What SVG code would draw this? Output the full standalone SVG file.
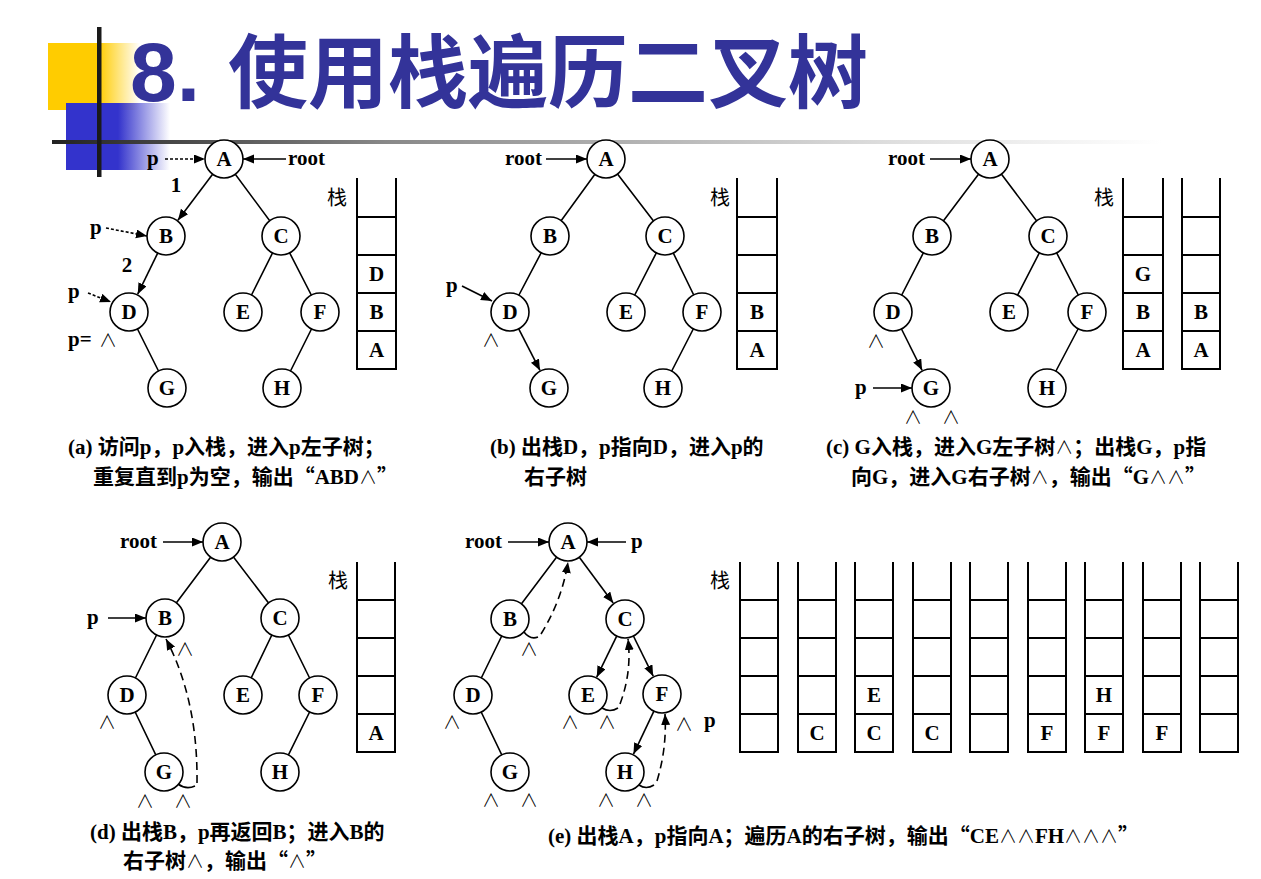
<svg xmlns="http://www.w3.org/2000/svg" width="1261" height="879" viewBox="0 0 1261 879">
<defs>
<linearGradient id="gy" x1="0" x2="1" y1="0" y2="0"><stop offset="0.55" stop-color="#FFCC00"/><stop offset="1" stop-color="#FFCC00" stop-opacity="0"/></linearGradient>
<linearGradient id="gb" x1="0" x2="1" y1="0" y2="0"><stop offset="0.5" stop-color="#3333CC"/><stop offset="1" stop-color="#3333CC" stop-opacity="0"/></linearGradient>
<linearGradient id="gl" x1="0" x2="1" y1="0" y2="0"><stop offset="0" stop-color="#222"/><stop offset="0.3" stop-color="#888"/><stop offset="0.75" stop-color="#ddd"/><stop offset="1" stop-color="#fff"/></linearGradient>
<marker id="ah" markerUnits="userSpaceOnUse" markerWidth="12" markerHeight="10" refX="11" refY="4.5" orient="auto" viewBox="0 0 12 10"><path d="M0,0 L11,4.5 L0,9 z" fill="#000"/></marker>
<style>
.n circle{fill:#fff;stroke:#000;stroke-width:1.6}
.n text,.sl{font-family:"Liberation Serif",serif;font-weight:bold;font-size:21px;text-anchor:middle}
.e{stroke:#000;stroke-width:1.6;fill:none}
.ar{marker-end:url(#ah)}
.dot{stroke-dasharray:3 2}
.dash{stroke-dasharray:8 5}
.lbl{font-family:"Liberation Serif",serif;font-weight:bold;font-size:21px}
.nil{font-family:"Noto Sans CJK SC",sans-serif;font-weight:300;font-size:18px;text-anchor:middle}
.zh{font-family:"Liberation Serif","Noto Sans CJK SC",serif;font-size:20px}
.stk path{stroke:#000;stroke-width:2;fill:none}
.cap{font-family:"Liberation Serif","Noto Sans CJK SC",serif;font-weight:bold;font-size:21px}
.cap .w{font-family:"Noto Sans CJK SC",sans-serif;font-weight:300;font-size:18px}
.cap .q{font-family:"Noto Sans CJK SC",sans-serif}
</style>
</defs>
<rect width="1261" height="879" fill="#fff"/>
<g id="header">
<rect x="48" y="43" width="92" height="67" fill="url(#gy)"/>
<rect x="66" y="103" width="104" height="67" fill="url(#gb)"/>
<rect x="52" y="140" width="1110" height="4" fill="url(#gl)"/>
<rect x="97" y="27" width="4.5" height="150" fill="#1a1a1a"/>
<text x="130" y="101" font-family="Liberation Sans,Arial,sans-serif" font-weight="bold" font-size="84" fill="#333399">8.<tspan x="228" font-family="Noto Sans CJK SC,sans-serif" font-size="80">使用栈遍历二叉树</tspan></text>
</g>
<g id="connectors">
<path class="e ar" d="M212.6,174.2L177.9,220.2"/>
<path class="e ar" d="M157.7,253.1L137.7,294.2"/>
<path class="e" d="M224,159L281,236M281,236L243,312M281,236L320,312M129,312L167,388M320,312L282,388"/>
<path class="e dot ar" d="M165,159H205"/>
<path class="e ar" d="M286,159H243"/>
<path class="e dot ar" d="M106,228L147,236"/>
<path class="e dot ar" d="M88,293L111,302"/>
<path class="e" d="M606,159L550,236M606,159L665,236M550,236L510,312M665,236L626,312M665,236L702,312M702,312L663,388"/>
<path class="e ar" d="M518.7,328.9L540,370.4"/>
<path class="e ar" d="M546,159H587"/>
<path class="e ar" d="M462,286L492,301"/>
<path class="e" d="M990,159L932,236M990,159L1048,236M932,236L893,312M1048,236L1009,312M1048,236L1087,312M1087,312L1047,388"/>
<path class="e ar" d="M901.5,329L922.1,370.3"/>
<path class="e ar" d="M930,159H971"/>
<path class="e ar" d="M873,388H912"/>
<path class="e" d="M222,542L165,618M222,542L280,618M165,618L127,695M127,695L164,772M280,618L243,695M280,618L318,695M318,695L280,772"/>
<path class="e ar" d="M163,542H203"/>
<path class="e ar" d="M108,618H146"/>
<path class="e" d="M178,784Q186,790 195,786"/>
<path class="e dash ar" d="M197,783Q198,700 166,639"/>
<path class="e" d="M568,542L510,619M510,619L473,695M473,695L510,772"/>
<path class="e ar" d="M579.3,557.3L613.2,603.1"/>
<path class="e ar" d="M616.7,636.1L596.7,677.2"/>
<path class="e ar" d="M633.4,636L653.2,676.2"/>
<path class="e ar" d="M653.9,711.2L633.5,754.1"/>
<path class="e ar" d="M508,542H549"/>
<path class="e ar" d="M626,542H587"/>
<path class="e" d="M524,632Q530,640 538,637"/>
<path class="e dash ar" d="M541,634Q562,600 568,562"/>
<path class="e" d="M602,708Q610,713 618,708"/>
<path class="e dash ar" d="M620,704Q632,672 628,639"/>
<path class="e" d="M639,785Q646,790 654,785"/>
<path class="e dash ar" d="M657,781Q667,748 665,714"/>
</g>
<g id="a-A" class="n"><circle cx="224" cy="159" r="19"/><text x="224" y="166">A</text></g>
<g id="a-B" class="n"><circle cx="166" cy="236" r="19"/><text x="166" y="243">B</text></g>
<g id="a-C" class="n"><circle cx="281" cy="236" r="19"/><text x="281" y="243">C</text></g>
<g id="a-D" class="n"><circle cx="129" cy="312" r="19"/><text x="129" y="319">D</text></g>
<g id="a-E" class="n"><circle cx="243" cy="312" r="19"/><text x="243" y="319">E</text></g>
<g id="a-F" class="n"><circle cx="320" cy="312" r="19"/><text x="320" y="319">F</text></g>
<g id="a-G" class="n"><circle cx="167" cy="388" r="19"/><text x="167" y="395">G</text></g>
<g id="a-H" class="n"><circle cx="282" cy="388" r="19"/><text x="282" y="395">H</text></g>
<g id="a-labels">
<text class="lbl" x="147" y="165">p</text>
<text class="lbl" x="288" y="165">root</text>
<text class="lbl" x="176" y="192" text-anchor="middle">1</text>
<text class="lbl" x="90" y="234">p</text>
<text class="lbl" x="127" y="272" text-anchor="middle">2</text>
<text class="lbl" x="68" y="298">p</text>
<text class="lbl" x="68" y="346">p=</text>
<text class="nil" x="108" y="347">∧</text>
<text class="zh" x="327" y="205">栈</text>
</g>
<g id="stack-a" class="stk"><path d="M357,178V369H396V178M357,217H396M357,255H396M357,293H396M357,331H396"/>
<text class="sl" x="376.5" y="281">D</text><text class="sl" x="376.5" y="319">B</text><text class="sl" x="376.5" y="357">A</text></g>
<g id="b-A" class="n"><circle cx="606" cy="159" r="19"/><text x="606" y="166">A</text></g>
<g id="b-B" class="n"><circle cx="550" cy="236" r="19"/><text x="550" y="243">B</text></g>
<g id="b-C" class="n"><circle cx="665" cy="236" r="19"/><text x="665" y="243">C</text></g>
<g id="b-D" class="n"><circle cx="510" cy="312" r="19"/><text x="510" y="319">D</text></g>
<g id="b-E" class="n"><circle cx="626" cy="312" r="19"/><text x="626" y="319">E</text></g>
<g id="b-F" class="n"><circle cx="702" cy="312" r="19"/><text x="702" y="319">F</text></g>
<g id="b-G" class="n"><circle cx="549" cy="388" r="19"/><text x="549" y="395">G</text></g>
<g id="b-H" class="n"><circle cx="663" cy="388" r="19"/><text x="663" y="395">H</text></g>
<g id="b-labels">
<text class="lbl" x="505" y="165">root</text>
<text class="lbl" x="446" y="292">p</text>
<text class="nil" x="491" y="347">∧</text>
<text class="zh" x="710" y="205">栈</text>
</g>
<g id="stack-b" class="stk"><path d="M737,178V369H777V178M737,217H777M737,255H777M737,293H777M737,331H777"/>
<text class="sl" x="757" y="319">B</text><text class="sl" x="757" y="357">A</text></g>
<g id="c-A" class="n"><circle cx="990" cy="159" r="19"/><text x="990" y="166">A</text></g>
<g id="c-B" class="n"><circle cx="932" cy="236" r="19"/><text x="932" y="243">B</text></g>
<g id="c-C" class="n"><circle cx="1048" cy="236" r="19"/><text x="1048" y="243">C</text></g>
<g id="c-D" class="n"><circle cx="893" cy="312" r="19"/><text x="893" y="319">D</text></g>
<g id="c-E" class="n"><circle cx="1009" cy="312" r="19"/><text x="1009" y="319">E</text></g>
<g id="c-F" class="n"><circle cx="1087" cy="312" r="19"/><text x="1087" y="319">F</text></g>
<g id="c-G" class="n"><circle cx="931" cy="388" r="19"/><text x="931" y="395">G</text></g>
<g id="c-H" class="n"><circle cx="1047" cy="388" r="19"/><text x="1047" y="395">H</text></g>
<g id="c-labels">
<text class="lbl" x="888" y="165">root</text>
<text class="lbl" x="855" y="394">p</text>
<text class="nil" x="876" y="348">∧</text>
<text class="nil" x="913" y="424">∧</text>
<text class="nil" x="951" y="424">∧</text>
<text class="zh" x="1094" y="205">栈</text>
</g>
<g id="stack-c1" class="stk"><path d="M1123,178V369H1163V178M1123,217H1163M1123,255H1163M1123,293H1163M1123,331H1163"/>
<text class="sl" x="1143" y="281">G</text><text class="sl" x="1143" y="319">B</text><text class="sl" x="1143" y="357">A</text></g>
<g id="stack-c2" class="stk"><path d="M1182,178V369H1220V178M1182,217H1220M1182,255H1220M1182,293H1220M1182,331H1220"/>
<text class="sl" x="1201" y="319">B</text><text class="sl" x="1201" y="357">A</text></g>
<g id="d-A" class="n"><circle cx="222" cy="542" r="19"/><text x="222" y="549">A</text></g>
<g id="d-B" class="n"><circle cx="165" cy="618" r="19"/><text x="165" y="625">B</text></g>
<g id="d-C" class="n"><circle cx="280" cy="618" r="19"/><text x="280" y="625">C</text></g>
<g id="d-D" class="n"><circle cx="127" cy="695" r="19"/><text x="127" y="702">D</text></g>
<g id="d-E" class="n"><circle cx="243" cy="695" r="19"/><text x="243" y="702">E</text></g>
<g id="d-F" class="n"><circle cx="318" cy="695" r="19"/><text x="318" y="702">F</text></g>
<g id="d-G" class="n"><circle cx="164" cy="772" r="19"/><text x="164" y="779">G</text></g>
<g id="d-H" class="n"><circle cx="280" cy="772" r="19"/><text x="280" y="779">H</text></g>
<g id="d-labels">
<text class="lbl" x="120" y="548">root</text>
<text class="lbl" x="87" y="624">p</text>
<text class="nil" x="185" y="656">∧</text>
<text class="nil" x="107" y="729">∧</text>
<text class="nil" x="145" y="808">∧</text>
<text class="nil" x="183" y="808">∧</text>
<text class="zh" x="328" y="588">栈</text>
</g>
<g id="stack-d" class="stk"><path d="M357,562V752H395V562M357,600H395M357,638H395M357,676H395M357,714H395"/>
<text class="sl" x="376" y="740">A</text></g>
<g id="e-A" class="n"><circle cx="568" cy="542" r="19"/><text x="568" y="549">A</text></g>
<g id="e-B" class="n"><circle cx="510" cy="619" r="19"/><text x="510" y="626">B</text></g>
<g id="e-C" class="n"><circle cx="625" cy="619" r="19"/><text x="625" y="626">C</text></g>
<g id="e-D" class="n"><circle cx="473" cy="695" r="19"/><text x="473" y="702">D</text></g>
<g id="e-E" class="n"><circle cx="588" cy="695" r="19"/><text x="588" y="702">E</text></g>
<g id="e-F" class="n"><circle cx="662" cy="694" r="19"/><text x="662" y="701">F</text></g>
<g id="e-G" class="n"><circle cx="510" cy="772" r="19"/><text x="510" y="779">G</text></g>
<g id="e-H" class="n"><circle cx="625" cy="772" r="19"/><text x="625" y="779">H</text></g>
<g id="e-labels">
<text class="lbl" x="465" y="548">root</text>
<text class="lbl" x="631" y="548">p</text>
<text class="nil" x="529" y="656">∧</text>
<text class="nil" x="452" y="729">∧</text>
<text class="nil" x="570" y="729">∧</text>
<text class="nil" x="607" y="729">∧</text>
<text class="nil" x="684" y="731">∧</text>
<text class="nil" x="491" y="807">∧</text>
<text class="nil" x="529" y="807">∧</text>
<text class="nil" x="606" y="807">∧</text>
<text class="nil" x="644" y="807">∧</text>
<text class="lbl" x="704" y="727">p</text>
<text class="zh" x="710" y="588">栈</text>
</g>
<g id="stacks-e" class="stk">
<path d="M740,562V752H778V562M740,600H778M740,638H778M740,676H778M740,714H778"/>
<path d="M798,562V752H836V562M798,600H836M798,638H836M798,676H836M798,714H836"/>
<path d="M855,562V752H893V562M855,600H893M855,638H893M855,676H893M855,714H893"/>
<path d="M913,562V752H951V562M913,600H951M913,638H951M913,676H951M913,714H951"/>
<path d="M970,562V752H1008V562M970,600H1008M970,638H1008M970,676H1008M970,714H1008"/>
<path d="M1028,562V752H1066V562M1028,600H1066M1028,638H1066M1028,676H1066M1028,714H1066"/>
<path d="M1085,562V752H1123V562M1085,600H1123M1085,638H1123M1085,676H1123M1085,714H1123"/>
<path d="M1143,562V752H1181V562M1143,600H1181M1143,638H1181M1143,676H1181M1143,714H1181"/>
<path d="M1200,562V752H1238V562M1200,600H1238M1200,638H1238M1200,676H1238M1200,714H1238"/>
<text class="sl" x="817" y="740">C</text>
<text class="sl" x="874" y="702">E</text><text class="sl" x="874" y="740">C</text>
<text class="sl" x="932" y="740">C</text>
<text class="sl" x="1047" y="740">F</text>
<text class="sl" x="1104" y="702">H</text><text class="sl" x="1104" y="740">F</text>
<text class="sl" x="1162" y="740">F</text>
</g>
<g id="captions">
<text class="cap" x="68" y="454">(a) 访问p，p入栈，进入p左子树；</text>
<text class="cap" x="93" y="484">重复直到p为空，输出<tspan class="q">“</tspan>ABD<tspan class="w">∧</tspan><tspan class="q">”</tspan></text>
<text class="cap" x="490" y="454">(b) 出栈D，p指向D，进入p的</text>
<text class="cap" x="524" y="484">右子树</text>
<text class="cap" x="826" y="454">(c) G入栈，进入G左子树<tspan class="w">∧</tspan>；出栈G，p指</text>
<text class="cap" x="851" y="484">向G，进入G右子树<tspan class="w">∧</tspan>，输出<tspan class="q">“</tspan>G<tspan class="w">∧∧</tspan><tspan class="q">”</tspan></text>
<text class="cap" x="90" y="839">(d) 出栈B，p再返回B；进入B的</text>
<text class="cap" x="123" y="868">右子树<tspan class="w">∧</tspan>，输出<tspan class="q">“</tspan><tspan class="w">∧</tspan><tspan class="q">”</tspan></text>
<text class="cap" x="548" y="843">(e) 出栈A，p指向A；遍历A的右子树，输出<tspan class="q">“</tspan>CE<tspan class="w">∧∧</tspan>FH<tspan class="w">∧∧∧</tspan><tspan class="q">”</tspan></text>
</g>
</svg>
